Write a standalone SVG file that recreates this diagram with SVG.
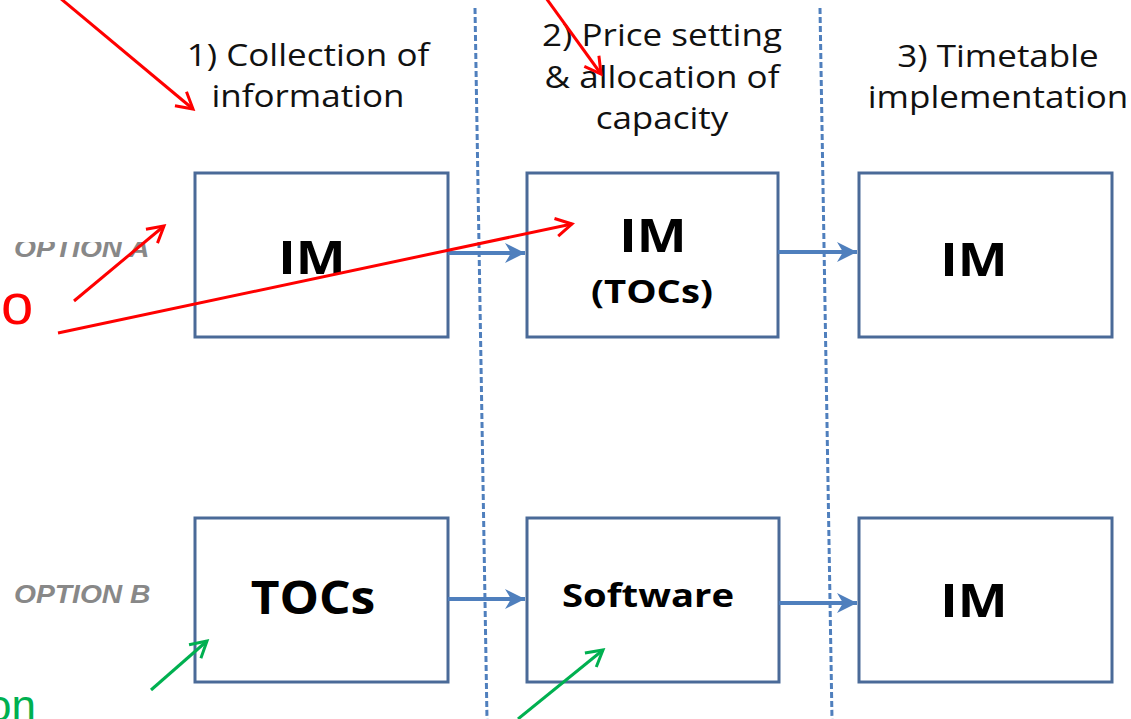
<svg xmlns="http://www.w3.org/2000/svg" width="1131" height="719" viewBox="0 0 1131 719">
<style>
.box{fill:#fff;stroke:#4a6a98;stroke-width:3}
.hdr{font-family:"Open Sans","Liberation Sans",sans-serif;font-size:31px;fill:#111;text-anchor:middle}
.big{font-family:"Open Sans","Liberation Sans",sans-serif;font-weight:bold;font-size:46px;fill:#000;text-anchor:middle}
.mid{font-family:"Open Sans","Liberation Sans",sans-serif;font-weight:bold;font-size:33px;fill:#000;text-anchor:middle}
.opt{font-family:"Liberation Sans",sans-serif;font-weight:bold;font-style:italic;font-size:25px;fill:#888}
.dash{stroke:#4f7fbd;stroke-width:3;stroke-dasharray:6 3;fill:none}
.flow{stroke:#4f7fbd;stroke-width:4;fill:none;marker-end:url(#bh)}
.red{stroke:#ff0000;stroke-width:3;fill:none;marker-end:url(#rh)}
.grn{stroke:#00b050;stroke-width:3;fill:none;marker-end:url(#gh)}
</style>
<defs>
<marker id="bh" markerUnits="userSpaceOnUse" markerWidth="24" markerHeight="24" refX="22" refY="12" orient="auto"><path d="M2,2 L22,12 L2,22 L8,12 Z" fill="#4f7fbd"/></marker>
<marker id="rh" markerUnits="userSpaceOnUse" markerWidth="24" markerHeight="24" refX="20" refY="12" orient="auto"><path d="M4,3 L20,12 L4,21" fill="none" stroke="#ff0000" stroke-width="3"/></marker>
<marker id="gh" markerUnits="userSpaceOnUse" markerWidth="24" markerHeight="24" refX="20" refY="12" orient="auto"><path d="M4,3 L20,12 L4,21" fill="none" stroke="#00b050" stroke-width="3"/></marker>
<clipPath id="optclip"><rect x="0" y="242" width="160" height="30"/></clipPath>
</defs>
<rect width="1131" height="719" fill="#fff"/>
<g id="dividers">
<line class="dash" x1="475" y1="8" x2="487" y2="719"/>
<line class="dash" x1="820" y1="8" x2="832" y2="719"/>
</g>
<g id="headers">
<text class="hdr" transform="translate(308,66) scale(1.13,1)">1) Collection of</text>
<text class="hdr" transform="translate(308,107) scale(1.13,1)">information</text>
<text class="hdr" transform="translate(662,46) scale(1.13,1)">2) Price setting</text>
<text class="hdr" transform="translate(662,88) scale(1.13,1)">&amp; allocation of</text>
<text class="hdr" transform="translate(662,129) scale(1.13,1)">capacity</text>
<text class="hdr" transform="translate(998,67) scale(1.13,1)">3) Timetable</text>
<text class="hdr" transform="translate(998,108) scale(1.13,1)">implementation</text>
</g>
<g id="options">
<g clip-path="url(#optclip)"><text class="opt" transform="translate(14,257) scale(1.13,1)">OPTION A</text></g>
<text class="opt" transform="translate(14,603) scale(1.13,1)">OPTION B</text>
</g>
<g id="nodeA1"><rect class="box" x="195" y="173" width="253" height="164"/><text class="big" transform="translate(312,274) scale(1.15,1)">IM</text></g>
<g id="nodeA2"><rect class="box" x="527" y="173" width="251" height="164"/><text class="big" transform="translate(653,252) scale(1.15,1)">IM</text><text class="mid" transform="translate(652,303) scale(1.16,1)">(TOCs)</text></g>
<g id="nodeA3"><rect class="box" x="859" y="173" width="253" height="164"/><text class="big" transform="translate(974,276) scale(1.15,1)">IM</text></g>
<g id="nodeB1"><rect class="box" x="195" y="518" width="253" height="164"/><text class="big" transform="translate(313,614) scale(1.08,1)">TOCs</text></g>
<g id="nodeB2"><rect class="box" x="527" y="518" width="252" height="164"/><text class="mid" transform="translate(648,607) scale(1.16,1)">Software</text></g>
<g id="nodeB3"><rect class="box" x="859" y="518" width="253" height="164"/><text class="big" transform="translate(974,617) scale(1.15,1)">IM</text></g>
<g id="connectors">
<line class="flow" x1="448" y1="253" x2="525" y2="253"/>
<line class="flow" x1="778" y1="252" x2="857" y2="252"/>
<line class="flow" x1="448" y1="599" x2="525" y2="599"/>
<line class="flow" x1="779" y1="603" x2="857" y2="603"/>
</g>
<g id="annotations">
<text x="1" y="324" font-family="Liberation Sans,sans-serif" font-size="58" fill="#ff0000">o</text>
<text x="-13" y="721" font-family="Liberation Sans,sans-serif" font-size="44" fill="#00b050">on</text>
<line class="red" x1="60" y1="-2" x2="193" y2="109"/>
<line class="red" x1="74" y1="301" x2="164" y2="226"/>
<line class="red" x1="58" y1="333" x2="572" y2="224"/>
<line class="red" x1="546" y1="-2" x2="601" y2="74"/>
<line class="grn" x1="151" y1="690" x2="207" y2="641"/>
<line class="grn" x1="518" y1="719" x2="603" y2="650"/>
</g>
</svg>
